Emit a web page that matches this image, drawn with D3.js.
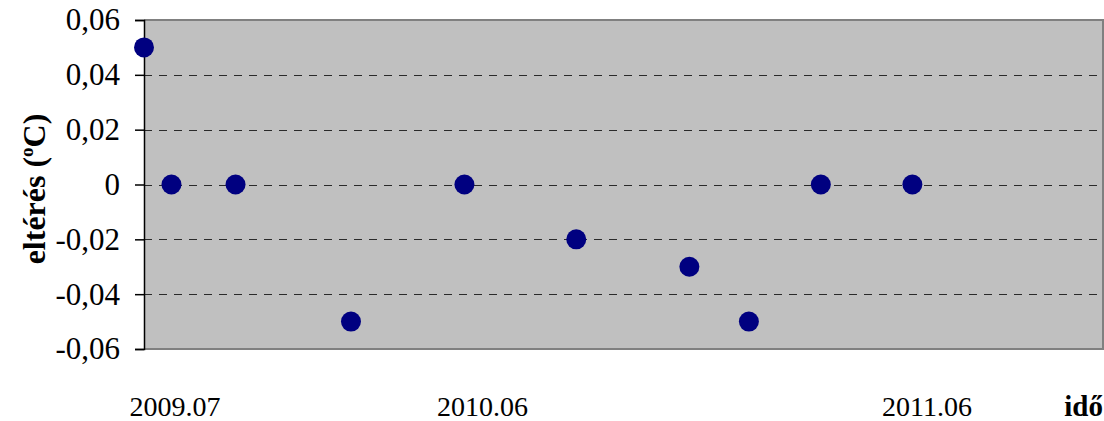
<!DOCTYPE html>
<html>
<head>
<meta charset="utf-8">
<script src="https://cdn.jsdelivr.net/npm/d3@7"></script>
<style>
  html, body { margin: 0; padding: 0; background: #fff; }
  svg { display: block; }
</style>
</head>
<body>
<svg id="chart" width="1104" height="421"></svg>
<script>
// Measurement times, in months counted from the start of 2009.07
const monthsFromStart = [0, 0.84, 2.8, 6.33, 9.8, 13.22, 16.68, 18.5, 20.7, 23.5];
// Deviation values (°C)
const deviations = [0.05, 0, 0, -0.05, 0, -0.02, -0.03, -0.05, 0, 0];
// Y tick values
const yTicks = [-0.06, -0.04, -0.02, 0, 0.02, 0.04, 0.06];
// X axis labels and their positions (months from start)
const xLabels = ["2009.07", "2010.06", "2011.06"];
const xLabelMonths = [0.95, 10.35, 23.95];
const xDomain = [0, 29.33];
const yDomain = [-0.06, 0.06];

const FONT = '"Liberation Serif"';
const svg = d3.select("#chart");
const pLeft = 144, pRight = 1103, pTop = 20, pBottom = 349;

const x = d3.scaleLinear().domain(xDomain).range([pLeft, pRight]);
const y = d3.scaleLinear().domain(yDomain).range([pBottom, pTop]);

// plot background
svg.append("rect")
  .attr("x", pLeft).attr("y", pTop)
  .attr("width", pRight - pLeft).attr("height", pBottom - pTop)
  .attr("fill", "#c0c0c0");

// gridlines (dashed)
svg.append("g").selectAll("line")
  .data(yTicks.filter(d => d > yDomain[0] && d < yDomain[1]))
  .join("line")
  .attr("x1", pLeft).attr("x2", pRight)
  .attr("y1", d => Math.round(y(d)) + 0.5)
  .attr("y2", d => Math.round(y(d)) + 0.5)
  .attr("stroke", "#2a2a2a")
  .attr("stroke-width", 1)
  .attr("stroke-dasharray", "8,7");

// frame: top, right, bottom gray
svg.append("path")
  .attr("d", `M${pLeft},${pTop} H${pRight} V${pBottom} H${pLeft}`)
  .attr("fill", "none")
  .attr("stroke", "#808080")
  .attr("stroke-width", 2);

// y axis
const yAxis = d3.axisLeft(y)
  .tickValues(yTicks)
  .tickSize(9)
  .tickPadding(15)
  .tickFormat(d => d === 0 ? "0" : d3.format(".2f")(d).replace(".", ",").replace("−", "-"));
const gy = svg.append("g")
  .attr("transform", `translate(${pLeft},0)`)
  .call(yAxis)
  .attr("font-family", null)
  .attr("font-size", null);
gy.select(".domain").attr("stroke", "#000").attr("stroke-width", 1.5);
gy.selectAll(".tick line").attr("stroke", "#000").attr("stroke-width", 1.5);
gy.selectAll(".tick text")
  .style("font-family", FONT)
  .style("font-size", "31px")
  .attr("fill", "#000");

// x labels
svg.append("g").selectAll("text")
  .data(xLabels)
  .join("text")
  .attr("x", (d, i) => x(xLabelMonths[i]))
  .attr("y", 416)
  .attr("text-anchor", "middle")
  .style("font-family", FONT)
  .style("font-size", "28px")
  .attr("fill", "#000")
  .text(d => d);

// x axis title
svg.append("text")
  .attr("x", 1103)
  .attr("y", 416)
  .attr("text-anchor", "end")
  .style("font-family", FONT)
  .style("font-size", "29px")
  .style("font-weight", "bold")
  .attr("fill", "#000")
  .text("idő");

// y axis title
const yt = svg.append("text")
  .attr("transform", "translate(45,189) rotate(-90)")
  .attr("text-anchor", "middle")
  .style("font-family", FONT)
  .style("font-size", "32px")
  .style("font-weight", "bold")
  .attr("fill", "#000");
yt.append("tspan").text("eltérés (");
yt.append("tspan").style("font-size", "19px").attr("dy", -12).text("o");
yt.append("tspan").attr("dy", 12).text("C)");

// points
svg.append("g").selectAll("circle")
  .data(deviations)
  .join("circle")
  .attr("cx", (d, i) => x(monthsFromStart[i]))
  .attr("cy", d => y(d))
  .attr("r", 10)
  .attr("fill", "#000080");
</script>
</body>
</html>
